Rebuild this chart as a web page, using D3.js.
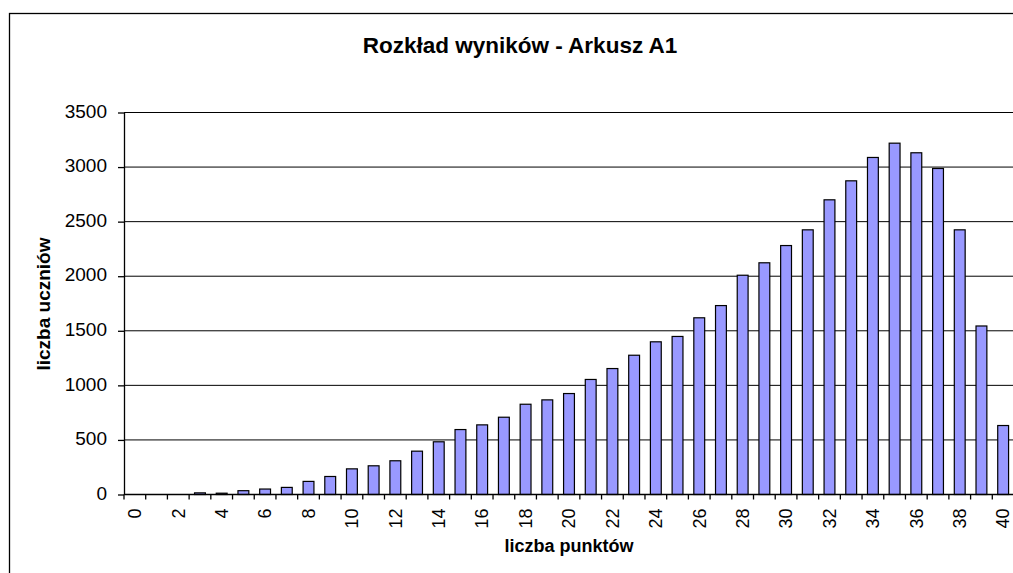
<!DOCTYPE html>
<html>
<head>
<meta charset="utf-8">
<script src="https://cdn.jsdelivr.net/npm/d3@7"></script>
<style>
  body { margin: 0; background: #fff; }
  text { font-family: Arial, "Liberation Sans", sans-serif; }
</style>
</head>
<body>
<div id="chart"></div>
<script>
// points scored (0..40) and number of students for each
const points = d3.range(0, 41);
const students = [0, 0, 0, 15, 12, 35, 50, 65, 120, 165,
  235, 263, 309, 397, 483, 595, 638, 708, 827, 867,
  925, 1054, 1154, 1276, 1399, 1448, 1619, 1731, 2009, 2123,
  2281, 2425, 2700, 2874, 3088, 3219, 3131, 2987, 2425, 1544, 632];
const yTicks = [0, 500, 1000, 1500, 2000, 2500, 3000, 3500];
const xLabels = points.filter((d) => d % 2 === 0);

const title = "Rozkład wyników - Arkusz A1";
const xTitle = "liczba punktów";
const yTitle = "liczba uczniów";

let drawChart = (locationId) => {
  const W = 1013, H = 573;
  const plot = { left: 124, right: 1014, top: 112.5, bottom: 494.5 };

  const svg = d3.select(locationId)
    .append("svg")
    .attr("width", W)
    .attr("height", H);

  // outer chart frame (runs past the picture on right and bottom)
  svg.append("rect")
    .attr("x", 9.5).attr("y", 13.5)
    .attr("width", 1040).attr("height", 600)
    .attr("fill", "#fff")
    .attr("stroke", "#000")
    .attr("stroke-width", 1.3);

  const x = d3.scaleBand()
    .domain(points)
    .range([plot.left, plot.right])
    .paddingInner(0.5)
    .paddingOuter(0.25);

  const y = d3.scaleLinear()
    .domain([0, 3500])
    .range([plot.bottom, plot.top]);

  // gridlines
  svg.append("g")
    .selectAll("line")
    .data(yTicks.filter((d) => d > 0))
    .join("line")
    .attr("x1", plot.left).attr("x2", plot.right)
    .attr("y1", (d) => y(d)).attr("y2", (d) => y(d))
    .attr("stroke", "#000")
    .attr("stroke-width", 1);

  // bars
  svg.append("g")
    .selectAll("rect")
    .data(points)
    .join("rect")
    .attr("x", (d) => x(d))
    .attr("y", (d) => y(students[d]))
    .attr("width", x.bandwidth())
    .attr("height", (d) => y(0) - y(students[d]))
    .attr("fill", "#9999ff")
    .attr("stroke", "#000")
    .attr("stroke-width", 1.2);

  // y axis
  const yAxis = svg.append("g")
    .attr("transform", `translate(${plot.left},0)`)
    .call(d3.axisLeft(y).tickValues(yTicks).tickFormat(d3.format("d"))
      .tickSize(6).tickSizeOuter(0).tickPadding(11));
  yAxis.selectAll("text")
    .attr("font-size", 19)
    .attr("fill", "#000")
    .attr("dy", "0.25em")
    .style("font-family", "Arial, 'Liberation Sans', sans-serif");
  yAxis.selectAll("line, path").attr("stroke", "#000").attr("stroke-width", 1.3);

  // x axis line
  svg.append("line")
    .attr("x1", plot.left).attr("x2", plot.right)
    .attr("y1", y(0)).attr("y2", y(0))
    .attr("stroke", "#000").attr("stroke-width", 1.3);

  // x ticks at category boundaries
  const step = x.step();
  const bounds = points.map((d) => x(d) + x.bandwidth() / 2 - step / 2)
    .concat([x(40) + x.bandwidth() / 2 + step / 2]);
  svg.append("g")
    .selectAll("line")
    .data(bounds)
    .join("line")
    .attr("x1", (d) => d).attr("x2", (d) => d)
    .attr("y1", y(0)).attr("y2", y(0) + 5)
    .attr("stroke", "#000").attr("stroke-width", 1.3);

  // x labels, every second value, rotated
  svg.append("g")
    .selectAll("text")
    .data(xLabels)
    .join("text")
    .attr("transform", (d) => `translate(${x(d) + x.bandwidth() / 2},${y(0) + 14}) rotate(-90)`)
    .attr("text-anchor", "end")
    .attr("dy", "0.35em")
    .attr("font-size", 18)
    .text((d) => d);

  // titles
  svg.append("text")
    .attr("x", 520).attr("y", 53)
    .attr("text-anchor", "middle")
    .attr("font-size", 22.5)
    .attr("font-weight", "bold")
    .text(title);

  svg.append("text")
    .attr("x", 569).attr("y", 551.5)
    .attr("text-anchor", "middle")
    .attr("font-size", 18)
    .attr("font-weight", "bold")
    .text(xTitle);

  svg.append("text")
    .attr("transform", "translate(50,304) rotate(-90)")
    .attr("text-anchor", "middle")
    .attr("font-size", 19)
    .attr("font-weight", "bold")
    .text(yTitle);
};

drawChart("#chart");
</script>
</body>
</html>
